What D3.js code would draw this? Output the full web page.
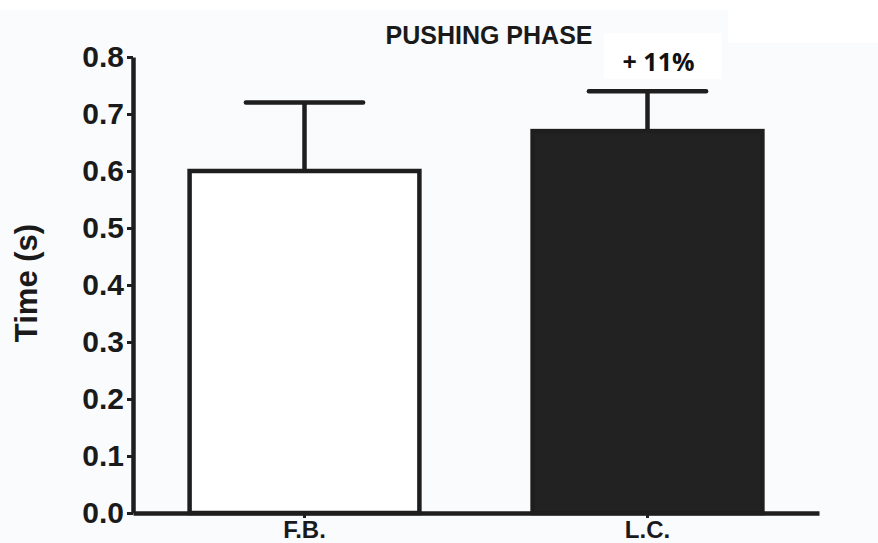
<!DOCTYPE html>
<html>
<head>
<meta charset="utf-8">
<script src="https://cdn.jsdelivr.net/npm/d3@7"></script>
<style>
  body { margin: 0; background: #fff; }
  svg { display: block; }
</style>
</head>
<body>
<script>
// DATA
var groups = ["F.B.", "L.C."];
var means = [0.60, 0.67];
var errors = [0.12, 0.07];
var yTicks = [0.0, 0.1, 0.2, 0.3, 0.4, 0.5, 0.6, 0.7, 0.8];
var fills = ["#ffffff", "#222222"];
var title = "PUSHING PHASE";
var note = "+ 11%";

var W = 878, H = 543;
var margin = {top: 57, right: 59, bottom: 30, left: 133};

var svg = d3.select("body").append("svg")
    .attr("width", W)
    .attr("height", H);

// slightly off-white backdrop like the scanned figure
svg.append("rect").attr("x", 0).attr("y", 10).attr("width", 728).attr("height", H - 10).attr("fill", "#fafbfd");
svg.append("rect").attr("x", 0).attr("y", 43).attr("width", W).attr("height", H - 43).attr("fill", "#fafbfd");

// SCALES
var x = d3.scaleBand()
    .domain(groups)
    .range([margin.left, W - margin.right])
    .paddingInner(0.33)
    .paddingOuter(0.165);

var y = d3.scaleLinear()
    .domain([0, 0.8])
    .range([H - margin.bottom, margin.top]);

var ink = "#1e1e1e";

// BARS
svg.selectAll(".bar")
    .data(groups)
  .enter().append("rect")
    .attr("class", "bar")
    .attr("x", function(d) { return x(d); })
    .attr("y", function(d, i) { return y(means[i]); })
    .attr("width", x.bandwidth())
    .attr("height", function(d, i) { return y(0) - y(means[i]); })
    .attr("fill", function(d, i) { return fills[i]; })
    .attr("stroke", ink)
    .attr("stroke-width", 4.5);

// ERROR BARS (upper only)
var capW = x.bandwidth() * 0.51;
groups.forEach(function(g, i) {
  var cx = x(g) + x.bandwidth() / 2;
  svg.append("line")
      .attr("x1", cx).attr("x2", cx)
      .attr("y1", y(means[i])).attr("y2", y(means[i] + errors[i]))
      .attr("stroke", ink).attr("stroke-width", 4.5);
  svg.append("line")
      .attr("x1", cx - capW / 2).attr("x2", cx + capW / 2)
      .attr("y1", y(means[i] + errors[i])).attr("y2", y(means[i] + errors[i]))
      .attr("stroke", ink).attr("stroke-width", 4.5)
      .attr("stroke-linecap", "round");
});

// AXES
var yAxis = d3.axisLeft(y)
    .tickValues(yTicks)
    .tickFormat(d3.format(".1f"))
    .tickSize(6)
    .tickSizeOuter(0)
    .tickPadding(3);

var gy = svg.append("g")
    .attr("transform", "translate(" + margin.left + ",0)")
    .call(yAxis);
gy.select(".domain").attr("stroke", ink).attr("stroke-width", 4.5);
gy.selectAll(".tick line").attr("stroke", ink).attr("stroke-width", 3);
gy.selectAll(".tick text")
    .attr("fill", "#1a1a1a")
    .style("font-family", "'Liberation Sans', Arial, sans-serif")
    .style("font-weight", "bold")
    .style("font-size", "30px");

var xAxis = d3.axisBottom(x)
    .tickSize(5)
    .tickSizeOuter(0)
    .tickPadding(3);

var gx = svg.append("g")
    .attr("transform", "translate(0," + y(0) + ")")
    .call(xAxis);
gx.select(".domain").attr("stroke", ink).attr("stroke-width", 4.5);
gx.selectAll(".tick line").attr("stroke", ink).attr("stroke-width", 3);
gx.selectAll(".tick text")
    .attr("fill", "#1a1a1a")
    .style("font-family", "'Liberation Sans', Arial, sans-serif")
    .style("font-weight", "bold")
    .style("font-size", "24px");

// Y LABEL
svg.append("text")
    .attr("transform", "translate(37,283) rotate(-90)")
    .attr("text-anchor", "middle")
    .attr("fill", "#1a1a1a")
    .style("font-family", "'Liberation Sans', Arial, sans-serif")
    .style("font-weight", "bold")
    .style("font-size", "31px")
    .text("Time (s)");

// TITLE
svg.append("text")
    .attr("x", 489)
    .attr("y", 44)
    .attr("text-anchor", "middle")
    .attr("fill", "#1a1a1a")
    .style("font-family", "'Liberation Sans', Arial, sans-serif")
    .style("font-weight", "bold")
    .style("font-size", "25px")
    .text(title);

// ANNOTATION with white box
var lcx = x(groups[1]) + x.bandwidth() / 2;
svg.append("rect")
    .attr("x", 604).attr("y", 33)
    .attr("width", 118).attr("height", 46)
    .attr("fill", "#ffffff");
svg.append("text")
    .attr("x", lcx + 11)
    .attr("y", 71)
    .attr("text-anchor", "middle")
    .attr("fill", "#111")
    .style("font-family", "'Open Sans', sans-serif")
    .style("font-weight", "bold")
    .style("font-size", "25px")
    .text(note);
</script>
</body>
</html>
